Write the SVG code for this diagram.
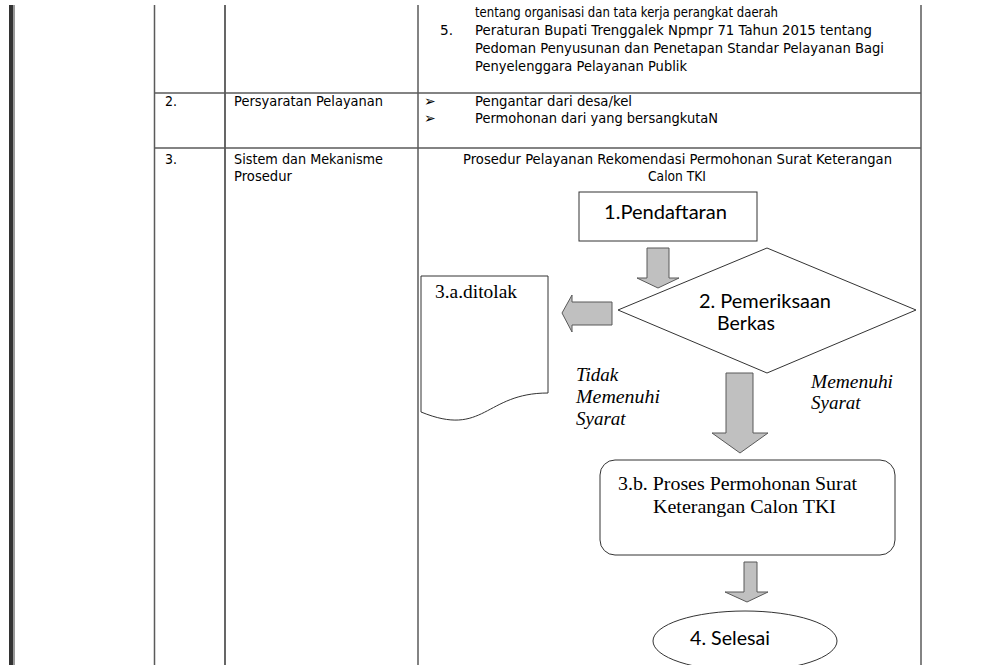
<svg xmlns="http://www.w3.org/2000/svg" width="997" height="665" viewBox="0 0 997 665">
<style>
.t{font-family:"DejaVu Sans",sans-serif;font-size:14px;fill:#000}
.b{font-family:"DejaVu Sans",sans-serif;font-size:14px;fill:#000}
.c{font-family:Lato,"Liberation Sans",sans-serif;font-size:19.5px;fill:#000}
.s{font-family:"Liberation Serif",serif;font-size:19px;fill:#000}
.i{font-family:"Liberation Serif",serif;font-size:19px;font-style:italic;fill:#000}
.arr{fill:#c0c0c0;stroke:#595959;stroke-width:1}
.box{fill:#fff;stroke:#333;stroke-width:1}
.gl{stroke:#5a5a5a;stroke-width:1.5}
.bl{stroke:#000;stroke-width:1.2}
</style>
<rect width="997" height="665" fill="#fff"/>
<g id="pagebar">
<rect x="9" y="5" width="4.5" height="660" fill="#333"/>
<rect x="13.5" y="5" width="1.5" height="660" fill="#999"/>
</g>
<g id="table">
<line class="gl" x1="154.5" y1="5" x2="154.5" y2="665"/>
<line class="bl" x1="225" y1="5" x2="225" y2="665"/>
<line class="gl" x1="418" y1="5" x2="418" y2="665"/>
<line class="gl" x1="921" y1="5" x2="921" y2="665"/>
<line class="gl" x1="154.5" y1="93" x2="921" y2="93"/>
<line class="gl" x1="154.5" y1="148" x2="921" y2="148"/>
<text class="t" x="475" y="17" textLength="303" lengthAdjust="spacingAndGlyphs">tentang organisasi dan tata kerja perangkat daerah</text>
<text class="t" x="440" y="35" textLength="13" lengthAdjust="spacingAndGlyphs">5.</text>
<text class="t" x="475" y="35" textLength="397" lengthAdjust="spacingAndGlyphs">Peraturan Bupati Trenggalek Npmpr 71 Tahun 2015 tentang</text>
<text class="t" x="475" y="53" textLength="409" lengthAdjust="spacingAndGlyphs">Pedoman Penyusunan dan Penetapan Standar Pelayanan Bagi</text>
<text class="t" x="475" y="71" textLength="212" lengthAdjust="spacingAndGlyphs">Penyelenggara Pelayanan Publik</text>
<text class="t" x="165" y="106" textLength="12" lengthAdjust="spacingAndGlyphs">2.</text>
<text class="t" x="234" y="106" textLength="149" lengthAdjust="spacingAndGlyphs">Persyaratan Pelayanan</text>
<text class="b" x="424" y="106">➢</text>
<text class="t" x="475" y="106" textLength="157" lengthAdjust="spacingAndGlyphs">Pengantar dari desa/kel</text>
<text class="b" x="424" y="123">➢</text>
<text class="t" x="475" y="123" textLength="243" lengthAdjust="spacingAndGlyphs">Permohonan dari yang bersangkutaN</text>
<text class="t" x="165" y="164" textLength="12" lengthAdjust="spacingAndGlyphs">3.</text>
<text class="t" x="234" y="164" textLength="149" lengthAdjust="spacingAndGlyphs">Sistem dan Mekanisme</text>
<text class="t" x="234" y="181" textLength="58" lengthAdjust="spacingAndGlyphs">Prosedur</text>
<text class="t" x="463" y="164" textLength="429" lengthAdjust="spacingAndGlyphs">Prosedur Pelayanan Rekomendasi Permohonan Surat Keterangan</text>
<text class="t" x="648" y="181" textLength="58" lengthAdjust="spacingAndGlyphs">Calon TKI</text>
</g>
<g id="connectors">
<path class="arr" d="M647,248 H669 V278 H679 L658,288 L637,278 H647 Z"/>
<path class="arr" d="M612,302 V325 H572 V332 L562,313 L572,295 V302 Z"/>
<path class="arr" d="M726,373 H753 V433 H768 L740,453 L712,433 H726 Z"/>
<path class="arr" d="M744,562 H757 V592 H768 L747,602 L725,592 H744 Z"/>
</g>
<g id="n1">
<rect class="box" x="579" y="192" width="178" height="49"/>
<text class="c" x="604" y="219" textLength="123" lengthAdjust="spacingAndGlyphs">1.Pendaftaran</text>
</g>
<g id="n2">
<polygon points="767,248 916,310 767,373 618,310" fill="none" stroke="#333" stroke-width="1"/>
<text class="c" x="699" y="308" textLength="132" lengthAdjust="spacingAndGlyphs">2. Pemeriksaan</text>
<text class="c" x="717" y="330" textLength="58" lengthAdjust="spacingAndGlyphs">Berkas</text>
</g>
<g id="n3a">
<path class="box" d="M421,276 H548 V393 C484.5,393 484.5,438 421,412 Z"/>
<text class="s" x="435" y="298" textLength="82" lengthAdjust="spacingAndGlyphs">3.a.ditolak</text>
</g>
<g id="labels">
<text class="i" x="576" y="381">Tidak</text>
<text class="i" x="576" y="403" textLength="84" lengthAdjust="spacingAndGlyphs">Memenuhi</text>
<text class="i" x="576" y="425">Syarat</text>
<text class="i" x="811" y="388" textLength="82" lengthAdjust="spacingAndGlyphs">Memenuhi</text>
<text class="i" x="811" y="409">Syarat</text>
</g>
<g id="n3b">
<rect class="box" x="600" y="460" width="295" height="95" rx="15"/>
<text class="s" x="618" y="490" textLength="239" lengthAdjust="spacingAndGlyphs">3.b. Proses Permohonan Surat</text>
<text class="s" x="653" y="513" textLength="183" lengthAdjust="spacingAndGlyphs">Keterangan Calon TKI</text>
</g>
<g id="n4">
<ellipse class="box" cx="745" cy="641" rx="92" ry="30"/>
<text class="c" x="690" y="645" textLength="80" lengthAdjust="spacingAndGlyphs">4. Selesai</text>
</g>
</svg>
